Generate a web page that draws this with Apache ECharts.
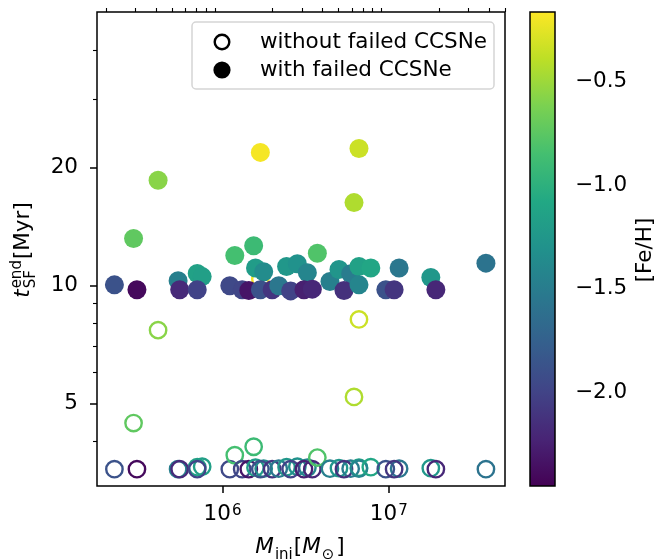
<!DOCTYPE html>
<html>
<head>
<meta charset="utf-8">
<script src="https://cdn.jsdelivr.net/npm/echarts@6/dist/echarts.min.js"></script>
<style>
  html, body { margin: 0; padding: 0; background: #fff; }
  #chart { width: 657px; height: 559px; }
</style>
</head>
<body>
<div id="chart"></div>
<script>
// initial mass of each run [Msun]
const massIni = [
  2.24e5, 2.92e5, 3.06e5, 4.10e5, 5.41e5, 5.53e5, 7.05e5, 7.55e5, 7.05e5, 1.107e6,
  1.186e6, 1.314e6, 1.44e6, 1.54e6, 1.58e6, 1.69e6, 1.77e6, 1.69e6, 1.99e6, 2.18e6,
  2.43e6, 2.82e6, 3.24e6, 2.57e6, 3.09e6, 3.47e6, 3.72e6, 4.43e6, 5.02e6, 5.90e6,
  5.38e6, 6.62e6, 6.62e6, 6.62e6, 6.18e6, 7.80e6, 1.154e7, 9.60e6, 1.077e7, 1.79e7,
  1.92e7, 3.84e7
]
// [Fe/H]
const feh = [
  -1.88, -0.73, -2.40, -0.57, -1.47, -2.18, -1.15, -1.17, -2.00, -1.95,
  -0.85, -1.98, -2.32, -0.90, -1.20, -0.19, -1.35, -1.88, -2.10, -1.55,
  -1.25, -1.30, -1.42, -2.00, -2.25, -2.20, -0.80, -1.47, -1.27, -1.50,
  -2.13, -1.15, -1.42, -0.34, -0.44, -1.10, -1.55, -1.88, -2.10, -1.25,
  -2.20, -1.58
]
// t_SF^end with failed CCSNe [Myr]
const tEndWith = [
  10.05, 13.2, 9.77, 18.6, 10.3, 9.77, 10.75, 10.55, 9.77, 10.0,
  11.95, 9.77, 9.72, 12.65, 11.1, 21.9, 10.85, 9.77, 9.77, 10.0,
  11.2, 11.38, 10.8, 9.7, 9.77, 9.8, 12.1, 10.25, 11.0, 10.73,
  9.72, 11.2, 10.05, 22.4, 16.3, 11.1, 11.1, 9.77, 9.77, 10.5,
  9.77, 11.42
]
// t_SF^end without failed CCSNe [Myr]
const tEndWithout = [
  3.40, 4.46, 3.40, 7.7, 3.40, 3.40, 3.44, 3.45, 3.40, 3.40,
  3.69, 3.40, 3.40, 3.88, 3.43, 10.4, 3.41, 3.40, 3.40, 3.41,
  3.44, 3.45, 3.43, 3.40, 3.40, 3.40, 3.64, 3.41, 3.42, 3.41,
  3.40, 3.43, 3.41, 8.2, 5.2, 3.44, 3.41, 3.40, 3.40, 3.42,
  3.40, 3.40
]

const xMajorTicks = [1e6, 1e7]
const xMinorTicks = [2e5, 3e5, 4e5, 5e5, 6e5, 7e5, 8e5, 9e5, 2e6, 3e6, 4e6, 5e6, 6e6, 7e6, 8e6, 9e6, 2e7, 3e7, 4e7, 5e7]
const yMajorTicks = [5, 10, 20]
const yMinorTicks = [4, 6, 7, 8, 9, 30, 40]
const cbTicks = [-2.0, -1.5, -1.0, -0.5]
const legendNames = ['without failed CCSNe', 'with failed CCSNe']

const xMin = 1.76e5, xMax = 5.0e7
const yMin = 3.08, yMax = 50
const fehMin = -2.454, fehMax = -0.162

const viridis = ['#440154', '#482475', '#414487', '#355f8d', '#2a788e', '#21918c',
  '#22a884', '#44bf70', '#7ad151', '#bddf26', '#fde725']

const FONT = 'DejaVu Sans'
const FS = 21.5   // main font size
const FSS = 15    // sub/superscript size

const withData = massIni.map((m, i) => [m, tEndWith[i], feh[i]])
const withoutData = massIni.map((m, i) => [m, tEndWithout[i], feh[i]])

// lay out a math-ish label out of text pieces (sub/superscripts)
const measureCtx = document.createElement('canvas').getContext('2d')
function textWidth(str, size, italic) {
  measureCtx.font = (italic ? 'italic ' : '') + size + 'px "' + FONT + '"'
  return measureCtx.measureText(str).width
}
function mathPieces(parts) {
  let x = 0
  const children = []
  parts.forEach(p => {
    children.push({
      type: 'text', x: x, y: (p.dy || 0) - 0.33 * p.size,
      style: {
        text: p.text, fontSize: p.size, fontFamily: FONT,
        fontStyle: p.italic ? 'italic' : 'normal',
        fill: '#000', align: 'left', verticalAlign: 'middle'
      }
    })
    if (p.advance !== false) x += textWidth(p.text, p.size, p.italic) + (p.gap || 0)
  })
  return { children, width: x }
}

const xTitle = mathPieces([
  { text: 'M', size: FS, italic: true, gap: 1 },
  { text: 'ini', size: FSS, dy: 5, gap: 1 },
  { text: '[', size: FS },
  { text: 'M', size: FS, italic: true, gap: 1 },
  { text: '\u2299', size: FSS, dy: 5, gap: 2 },
  { text: ']', size: FS }
])
const yTitle = mathPieces([
  { text: 't', size: FS, italic: true, gap: 1 },
  { text: 'SF', size: FSS, dy: 5, advance: false },
  { text: 'end', size: FSS, dy: -9, gap: 1 },
  { text: '[Myr]', size: FS }
])

// legend box drawn by hand (matplotlib style)
const legendGraphic = {
  type: 'group', x: 192, y: 22, silent: true,
  children: [
    { type: 'rect', shape: { x: 0, y: 0, width: 302, height: 67, r: 4 },
      style: { fill: 'rgba(255,255,255,0.8)', stroke: '#d5d5d5', lineWidth: 1.5 } },
    { type: 'circle', shape: { cx: 30, cy: 20, r: 7.3 }, style: { fill: 'none', stroke: '#000', lineWidth: 2.4 } },
    { type: 'circle', shape: { cx: 30, cy: 48, r: 8.6 }, style: { fill: '#000' } },
    { type: 'text', x: 68, y: 20, style: { text: legendNames[0], fontSize: FS, fontFamily: FONT, fill: '#000', verticalAlign: 'middle' } },
    { type: 'text', x: 68, y: 48, style: { text: legendNames[1], fontSize: FS, fontFamily: FONT, fill: '#000', verticalAlign: 'middle' } }
  ]
}

const tickLabelStyle = { color: '#000', fontSize: FS, fontFamily: FONT }

const chart = echarts.init(document.getElementById('chart'))
chart.setOption({
  animation: false,
  textStyle: { fontFamily: FONT },
  grid: [
    { left: 97, top: 12, width: 408, height: 474, show: true, borderColor: '#000', borderWidth: 1.5,
      backgroundColor: 'transparent', containLabel: false, outerBoundsMode: 'none' },
    { left: 530, top: 12, width: 25, height: 474, show: false, containLabel: false, outerBoundsMode: 'none' }
  ],
  xAxis: [
    {
      type: 'log', logBase: 10, gridIndex: 0, min: xMin, max: xMax,
      axisLine: { show: false }, splitLine: { show: false },
      axisTick: { show: true, length: 7, customValues: xMajorTicks, lineStyle: { color: '#000', width: 1.5 } },
      axisLabel: {
        customValues: xMajorTicks, margin: 18, color: '#000',
        formatter: v => '{b|10}{s|' + Math.round(Math.log10(v)) + '}',
        rich: {
          b: { fontSize: FS, fontFamily: FONT, color: '#000', lineHeight: 21, verticalAlign: 'bottom' },
          s: { fontSize: FSS, fontFamily: FONT, color: '#000', lineHeight: 15, verticalAlign: 'top', padding: [0, 0, 8, 1] }
        }
      }
    },
    {
      type: 'log', logBase: 10, gridIndex: 0, min: xMin, max: xMax,
      axisLine: { show: false }, splitLine: { show: false }, axisLabel: { show: false },
      axisTick: { show: true, length: 4, customValues: xMinorTicks, lineStyle: { color: '#000', width: 1.1 } }
    },
    { type: 'value', gridIndex: 1, min: 0, max: 1, show: false }
  ],
  yAxis: [
    {
      type: 'log', logBase: 10, gridIndex: 0, min: yMin, max: yMax,
      axisLine: { show: false }, splitLine: { show: false },
      axisTick: { show: true, length: 7, customValues: yMajorTicks, lineStyle: { color: '#000', width: 1.5 } },
      axisLabel: Object.assign({ customValues: yMajorTicks, margin: 19, formatter: v => String(Math.round(v)) }, tickLabelStyle)
    },
    {
      type: 'log', logBase: 10, gridIndex: 0, min: yMin, max: yMax, position: 'left',
      axisLine: { show: false }, splitLine: { show: false }, axisLabel: { show: false },
      axisTick: { show: true, length: 4, customValues: yMinorTicks, lineStyle: { color: '#000', width: 1.1 } }
    },
    {
      type: 'value', gridIndex: 1, min: fehMin, max: fehMax, position: 'right',
      axisLine: { show: false }, splitLine: { show: false },
      axisTick: { show: true, length: 7, customValues: cbTicks, lineStyle: { color: '#000', width: 1.5 } },
      axisLabel: Object.assign({
        customValues: cbTicks, margin: 20,
        formatter: v => v.toFixed(1).replace('-', '\u2212')
      }, tickLabelStyle)
    }
  ],
  visualMap: {
    type: 'continuous', show: false, min: fehMin, max: fehMax, dimension: 2,
    seriesIndex: [0, 1], inRange: { color: viridis }
  },
  series: [
    {
      name: legendNames[0], type: 'custom', xAxisIndex: 0, yAxisIndex: 0,
      data: withoutData, encode: { x: 0, y: 1 }, silent: true,
      renderItem: (params, api) => {
        const p = api.coord([api.value(0), api.value(1)])
        return {
          type: 'circle', shape: { cx: p[0], cy: p[1], r: 8.2 },
          style: { fill: 'none', stroke: api.visual('color'), lineWidth: 2.4 }
        }
      }
    },
    {
      name: legendNames[1], type: 'scatter', xAxisIndex: 0, yAxisIndex: 0,
      data: withData, symbol: 'circle', symbolSize: 19, itemStyle: { opacity: 1 },
      silent: true, emphasis: { disabled: true }
    },
    {
      // colorbar
      type: 'custom', xAxisIndex: 2, yAxisIndex: 2, data: [[0, fehMin]], silent: true,
      renderItem: (params, api) => {
        const a = api.coord([0, fehMax])
        const b = api.coord([1, fehMin])
        return {
          type: 'rect',
          shape: { x: a[0], y: a[1], width: b[0] - a[0], height: b[1] - a[1] },
          style: {
            fill: new echarts.graphic.LinearGradient(0, 1, 0, 0,
              viridis.map((c, i) => ({ offset: i / (viridis.length - 1), color: c }))),
            stroke: '#000', lineWidth: 1.5
          }
        }
      }
    }
  ],
  graphic: [
    legendGraphic,
    { type: 'group', x: 300 - xTitle.width / 2, y: 555, children: xTitle.children },
    { type: 'group', x: 31, y: 250 + yTitle.width / 2, rotation: Math.PI / 2, children: yTitle.children },
    {
      type: 'text', x: 645, y: 250, rotation: Math.PI / 2,
      style: { text: '[Fe/H]', fontSize: FS, fontFamily: FONT, fill: '#000', align: 'center', verticalAlign: 'middle' }
    }
  ]
})
</script>
</body>
</html>
